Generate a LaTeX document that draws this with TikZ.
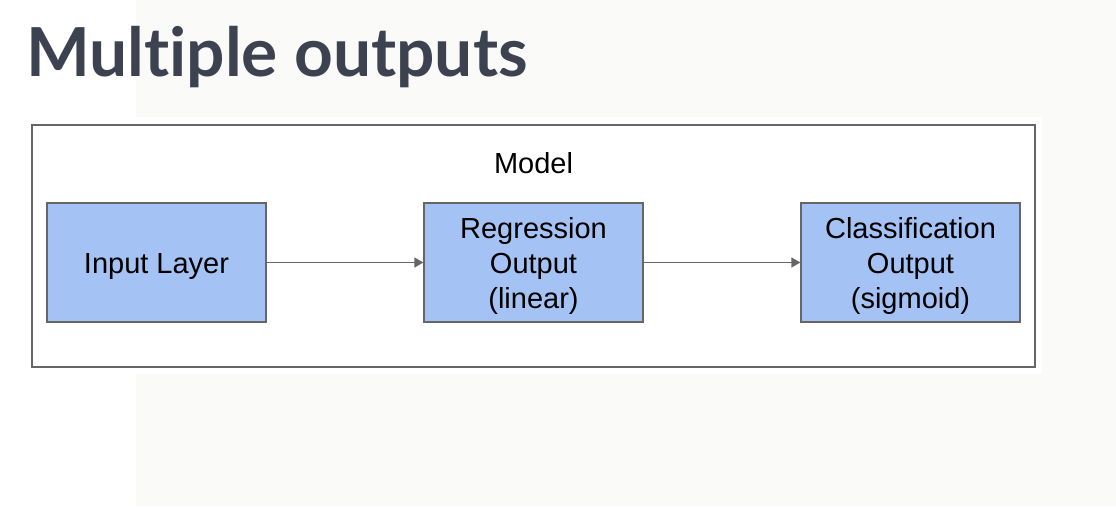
\documentclass[tikz,border=0pt]{standalone}
\usepackage{fontspec}
\setmainfont{Liberation Sans}
\newfontfamily\titlefont{Lato}[UprightFont=* Bold, Ligatures=NoCommon]
\usetikzlibrary{arrows.meta}
\definecolor{boxblue}{HTML}{A4C2F4}
\definecolor{edgegray}{HTML}{666666}
\definecolor{titlecol}{HTML}{3C4250}
\definecolor{offwhite}{HTML}{FAFAF8}
\tikzset{
  layerbox/.style={draw=edgegray, line width=1.3pt, fill=boxblue, minimum width=219pt, minimum height=119pt, inner sep=0pt},
  boxtext/.style={inner sep=0pt, align=center, font=\fontsize{29}{35}\selectfont},
  flow/.style={draw=edgegray, line width=1.3pt, -{Triangle[length=9pt,width=10pt]}},
}
\begin{document}
\begin{tikzpicture}[x=1pt,y=-1pt]
\useasboundingbox (0,0) rectangle (1116,506);
\fill[white] (0,0) rectangle (1116,506);
\fill[offwhite] (136,0) rectangle (1116,506);
\fill[white] (0,117) rectangle (1042,374);
\node[anchor=base west, text=titlecol, font=\titlefont\fontsize{67.6}{80}\selectfont, inner sep=0pt] (title) at (26,76) {Multiple outputs};
\node[draw=edgegray, line width=1.3pt, minimum width=1003pt, minimum height=242pt, inner sep=0pt] (model) at (533.5,246) {};
\node[anchor=base, font=\fontsize{29}{35}\selectfont, inner sep=0pt] (modellabel) at (533.5,173) {Model};
\node[layerbox] (input) at (156.5,262.5) {};
\node[layerbox] (reg) at (533.5,262.5) {};
\node[layerbox] (cls) at (910.5,262.5) {};
\node[boxtext, anchor=base] (inputtext) at (156.5,273.5) {Input Layer};
\node[boxtext, anchor=base] (regtext) at (533.5,308.5) {Regression\\Output\\(linear)};
\node[boxtext, anchor=base] (clstext) at (910.5,308.5) {Classification\\Output\\(sigmoid)};
\draw[flow] (input) -- (reg);
\draw[flow] (reg) -- (cls);
\end{tikzpicture}
\end{document}
